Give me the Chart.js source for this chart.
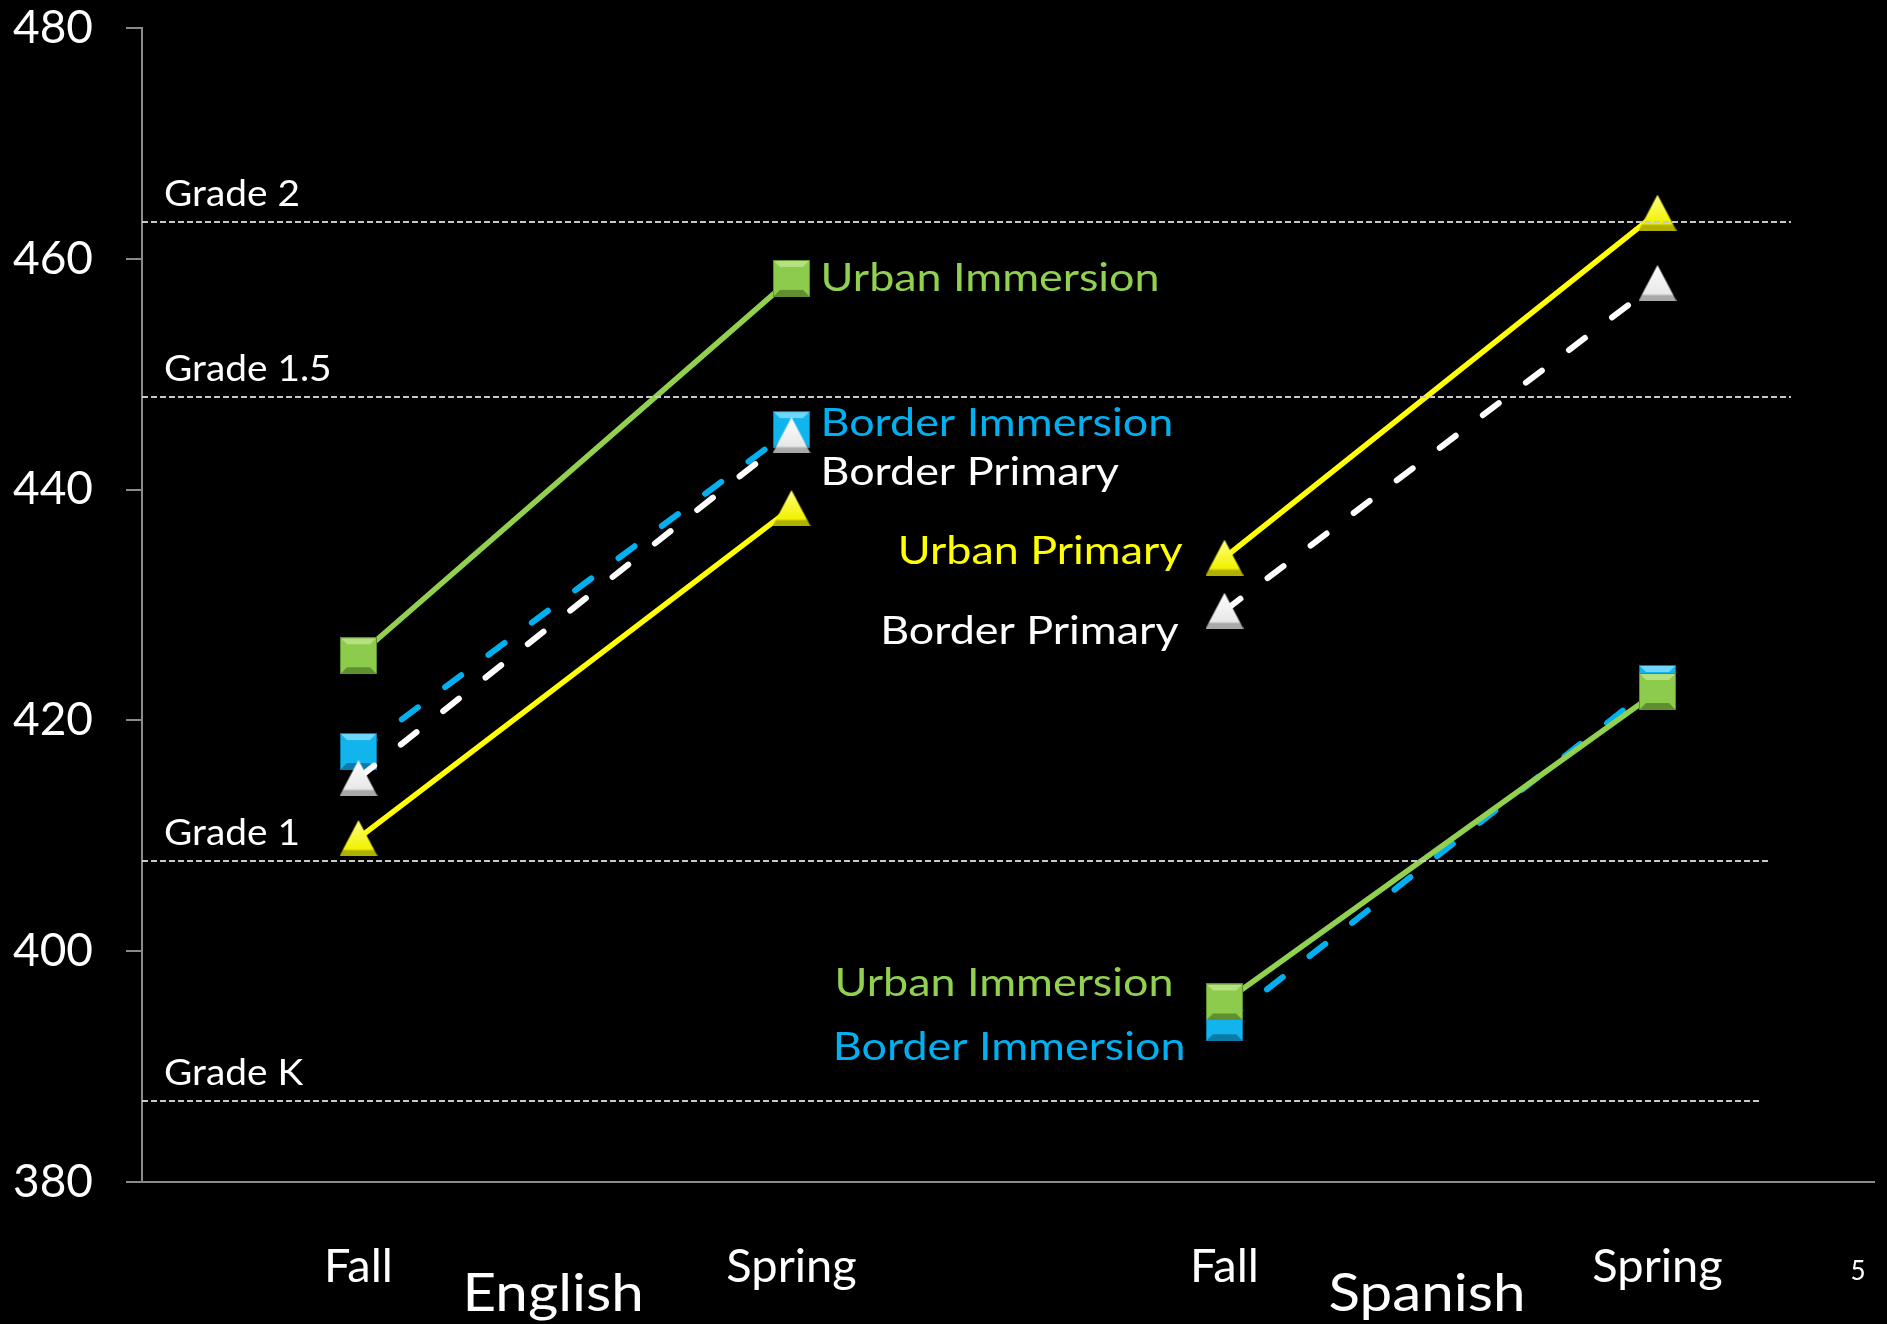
<!DOCTYPE html>
<html>
<head>
<meta charset="utf-8">
<style>
  html, body { margin: 0; padding: 0; background: #000; }
  canvas { display: block; }
</style>
<script src="https://cdn.jsdelivr.net/npm/chart.js@4/dist/chart.umd.min.js"></script>
</head>
<body>
<canvas id="graf" width="1887" height="1324"></canvas>
<script>
const categories = ["Fall", "Spring", "Fall", "Spring"];
const groups = ["English", "Spanish"];

// English Fall, English Spring, Spanish Fall, Spanish Spring
const urbanImmersion = [425.6, 458.3, 395.6, 422.5];
const borderPrimary = [415.0, 444.7, 429.5, 457.9];
const urbanPrimary = [409.8, 438.4, 434.1, 464.0];
const borderImmersion = [417.3, 445.2, 393.8, 423.2];

const gradeNames = ["Grade 2", "Grade 1.5", "Grade 1", "Grade K"];
const gradeValues = [463.2, 448.0, 407.8, 387.0];

const yTicks = [380, 400, 420, 440, 460, 480];
const pageNumber = "5";

const GREEN = "#92D050", BLUE = "#00B0F0", YELLOW = "#FFFF00", WHITE = "#FFFFFF";

// where each dotted grade line stops, measured back from the right end of the axis
const gradeLineEnd = [-83, -83, -103, -115];

function squareMarker(base, light, dark) {
    const s = 37, b = 7;
    const cv = document.createElement("canvas");
    cv.width = s; cv.height = s;
    const c = cv.getContext("2d");
    c.fillStyle = base;
    c.fillRect(0, 0, s, s);
    c.fillStyle = light;
    c.beginPath(); c.moveTo(0, 0); c.lineTo(s, 0); c.lineTo(s - b, b); c.lineTo(b, b); c.closePath(); c.fill();
    c.fillStyle = dark;
    c.beginPath(); c.moveTo(0, s); c.lineTo(s, s); c.lineTo(s - b, s - b); c.lineTo(b, s - b); c.closePath(); c.fill();
    c.strokeStyle = dark;
    c.lineWidth = 1;
    c.strokeRect(0.5, 0.5, s - 1, s - 1);
    return cv;
}

function triangleMarker(base, light, dark) {
    const w = 38, h = 36;
    const cv = document.createElement("canvas");
    cv.width = w; cv.height = h;
    const c = cv.getContext("2d");
    const g = c.createLinearGradient(0, 0, 0, h);
    g.addColorStop(0, light);
    g.addColorStop(0.8, base);
    g.addColorStop(0.86, dark);
    g.addColorStop(1, dark);
    c.fillStyle = g;
    c.beginPath(); c.moveTo(w / 2, 0); c.lineTo(w, h); c.lineTo(0, h); c.closePath(); c.fill();
    return cv;
}

const series = [
    { name: "Urban Immersion", values: urbanImmersion, color: GREEN, dash: [], marker: squareMarker("#8ccb4c", "#b5e27f", "#5f8f2e") },
    { name: "Border Primary", values: borderPrimary, color: WHITE, dash: [20, 34], marker: triangleMarker("#e8e8e8", "#ffffff", "#a8a8a8") },
    { name: "Urban Primary", values: urbanPrimary, color: YELLOW, dash: [], marker: triangleMarker("#f2f200", "#ffff80", "#b0b000") },
    { name: "Border Immersion", values: borderImmersion, color: BLUE, dash: [20, 34], marker: squareMarker("#12b4ee", "#6fd6fb", "#0a7aa8") }
];

// one dataset per series and language so the two halves are not joined
const datasets = [];
series.forEach(s => {
    groups.forEach((g, gi) => {
        datasets.push({
            label: s.name + " " + g,
            data: s.values.map((v, i) => Math.floor(i / 2) === gi ? v : null),
            borderColor: s.color,
            backgroundColor: s.color,
            borderWidth: s.dash.length ? 6 : 5.5,
            borderDash: s.dash,
            borderCapStyle: "round",
            pointStyle: s.marker,
            pointRadius: 18,
            spanGaps: false,
            tension: 0
        });
    });
});

// dataset index: series * 2 + language
const callouts = [
    { ds: 0, i: 1, text: "Urban Immersion", color: GREEN, dx: 29, dy: 0, align: "left" },
    { ds: 6, i: 1, text: "Border Immersion", color: BLUE, dx: 29, dy: -6, align: "left" },
    { ds: 2, i: 1, text: "Border Primary", color: WHITE, dx: 29, dy: 37, align: "left" },
    { ds: 5, i: 2, text: "Urban Primary", color: YELLOW, dx: -42, dy: -6, align: "right" },
    { ds: 3, i: 2, text: "Border Primary", color: WHITE, dx: -46, dy: 21, align: "right" },
    { ds: 1, i: 2, text: "Urban Immersion", color: GREEN, dx: -51, dy: -19, align: "right" },
    { ds: 7, i: 2, text: "Border Immersion", color: BLUE, dx: -39, dy: 25, align: "right" }
];

// text a bit wider than Lato, closer to the original Calibri
function drawText(ctx, text, x, y, align, sx) {
    ctx.save();
    ctx.translate(x, y);
    ctx.scale(sx, 1);
    ctx.textAlign = align;
    ctx.textBaseline = "middle";
    ctx.fillText(text, 0, 0);
    ctx.restore();
}

const backgroundPlugin = {
    id: "background",
    beforeDraw(chart) {
        const c = chart.ctx;
        c.save();
        c.fillStyle = "#000";
        c.fillRect(0, 0, chart.width, chart.height);
        c.restore();
    }
};

const overlayPlugin = {
    id: "overlay",
    afterDatasetsDraw(chart) {
        const { ctx, chartArea, scales } = chart;
        ctx.save();

        // grade reference lines
        gradeValues.forEach((v, i) => {
            const py = Math.round(scales.y.getPixelForValue(v));
            ctx.strokeStyle = "#c8c8c8";
            ctx.lineWidth = 2;
            ctx.setLineDash([6, 3]);
            ctx.beginPath();
            ctx.moveTo(chartArea.left, py);
            ctx.lineTo(chartArea.right + gradeLineEnd[i], py);
            ctx.stroke();
            ctx.setLineDash([]);
            ctx.fillStyle = WHITE;
            ctx.font = "37px Lato";
            drawText(ctx, gradeNames[i], chartArea.left + 22, py - 28, "left", 1.05);
        });

        // series names next to the points
        ctx.font = "39px Lato";
        callouts.forEach(l => {
            const pt = chart.getDatasetMeta(l.ds).data[l.i];
            ctx.fillStyle = l.color;
            drawText(ctx, l.text, pt.x + l.dx, pt.y + l.dy, l.align, 1.15);
        });

        // language names under the Fall / Spring ticks
        ctx.fillStyle = WHITE;
        ctx.font = "53px Lato";
        groups.forEach((g, gi) => {
            const px = scales.x.getPixelForValue(gi * 2);
            drawText(ctx, g, px + 104, chartArea.bottom + 112, "left", 1.1);
        });

        ctx.font = "26px Lato";
        drawText(ctx, pageNumber, chart.width - 29, chartArea.bottom + 90, "center", 1);

        ctx.restore();
    }
};

new Chart(document.getElementById("graf"), {
    type: "line",
    data: { labels: categories, datasets: datasets },
    options: {
        responsive: false,
        animation: false,
        devicePixelRatio: 1,
        layout: { autoPadding: false, padding: { top: 28, right: 13, left: 0, bottom: 0 } },
        plugins: {
            legend: { display: false },
            tooltip: { enabled: false }
        },
        scales: {
            x: {
                offset: true,
                grid: { display: false, drawTicks: false },
                border: { display: true, color: "#8a8a8a", width: 2 },
                ticks: {
                    color: WHITE,
                    font: { family: "Lato", size: 47 },
                    padding: 57,
                    maxRotation: 0,
                    autoSkip: false
                },
                afterFit: s => {
                    s.height = 142;
                    s.paddingLeft = 0;
                    s.paddingRight = 0;
                }
            },
            y: {
                min: 380,
                max: 480,
                grid: { drawOnChartArea: false, drawTicks: true, tickLength: 16, color: "#8a8a8a", lineWidth: 2 },
                border: { display: true, color: "#8a8a8a", width: 2 },
                ticks: {
                    color: WHITE,
                    font: { family: "Lato", size: 46 },
                    padding: 33
                },
                afterBuildTicks: s => { s.ticks = yTicks.map(v => ({ value: v })); },
                afterFit: s => {
                    s.width = 142;
                    s.paddingTop = 0;
                    s.paddingBottom = 0;
                }
            }
        }
    },
    plugins: [backgroundPlugin, overlayPlugin]
});
</script>
</body>
</html>
